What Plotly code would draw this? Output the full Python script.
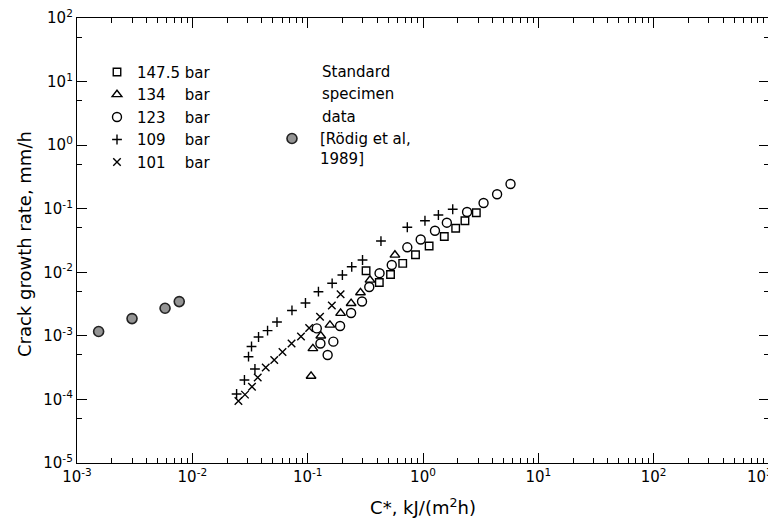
import plotly.graph_objects as go

# ---------------- data ----------------
# 147.5 bar
c_1475 = [0.321, 0.418, 0.523, 0.667, 0.861, 1.13, 1.53, 1.92, 2.31, 2.90]
r_1475 = [0.01055, 0.0069, 0.00923, 0.0138, 0.0189, 0.0259, 0.0366, 0.0492, 0.0647, 0.0863]
# 134 bar
c_134 = [0.107, 0.111, 0.130, 0.156, 0.193, 0.238, 0.287, 0.347, 0.571]
r_134 = [2.33e-4, 6.32e-4, 1.0e-3, 1.48e-3, 2.27e-3, 3.25e-3, 4.78e-3, 7.57e-3, 0.0187]
# 123 bar
c_123 = [0.120, 0.129, 0.149, 0.167, 0.191, 0.238, 0.296, 0.342, 0.420, 0.536,
         0.731, 0.955, 1.27, 1.61, 2.41, 3.35, 4.39, 5.74]
r_123 = [1.31e-3, 7.59e-4, 5.0e-4, 8.1e-4, 1.43e-3, 2.29e-3, 3.47e-3, 5.86e-3, 9.68e-3, 0.0130,
         0.0247, 0.0328, 0.0451, 0.0603, 0.0887, 0.123, 0.169, 0.245]
# 109 bar
c_109 = [0.0242, 0.0283, 0.0349, 0.0307, 0.0326, 0.0375, 0.0449, 0.0542, 0.0731, 0.0957,
         0.124, 0.163, 0.200, 0.241, 0.299, 0.432, 0.731, 1.04, 1.36, 1.81]
r_109 = [1.22e-4, 2.02e-4, 3.01e-4, 4.70e-4, 6.80e-4, 9.6e-4, 1.21e-3, 1.65e-3, 2.51e-3, 3.29e-3,
         4.95e-3, 6.71e-3, 9.06e-3, 0.0122, 0.0156, 0.0310, 0.0511, 0.0647, 0.0796, 0.098]
# 101 bar
c_101 = [0.0251, 0.0286, 0.0329, 0.0369, 0.0433, 0.0513, 0.0605, 0.0725, 0.0875, 0.103,
         0.128, 0.162, 0.193]
r_101 = [9.44e-5, 1.19e-4, 1.58e-4, 2.21e-4, 3.18e-4, 4.17e-4, 5.57e-4, 7.59e-4, 9.78e-4, 1.33e-3,
         2.0e-3, 3.0e-3, 4.52e-3]
# Standard specimen data [Rödig et al, 1989]
c_std = [1.54e-3, 3.0e-3, 5.8e-3, 7.7e-3]
r_std = [1.17e-3, 1.87e-3, 2.72e-3, 3.46e-3]

x_exps = [-3, -2, -1, 0, 1, 2, 3]
y_exps = [-5, -4, -3, -2, -1, 0, 1, 2]
# last x label (10^3) is drawn separately so that it stays inside the page
x_ticktext = ["10<sup>%d</sup>" % e for e in x_exps[:-1]] + [""]
x_last_label = "10<sup>%d</sup>" % x_exps[-1]
y_ticktext = ["10<sup>%d</sup>" % e for e in y_exps]
std_lines = ["Standard", "specimen", "data"]

FONT = "DejaVu Sans"
INK = "black"

fig = go.Figure()

series = [
    ("147.5 bar", c_1475, r_1475, "square-open", 7.5),
    ("134\u2007\u2008 bar", c_134, r_134, "triangle-up-open", 8.5),
    ("123\u2007\u2008 bar", c_123, r_123, "circle-open", 9),
    ("109\u2007\u2008 bar", c_109, r_109, "cross-thin-open", 7),
    ("101\u2007\u2008 bar", c_101, r_101, "x-thin-open", 7.5),
]
for name, xs, ys, sym, sz in series:
    fig.add_trace(go.Scatter(
        x=xs, y=ys, mode="markers", name=name,
        marker=dict(symbol=sym, size=sz, color=INK, line=dict(color=INK, width=1.4)),
        legend="legend",
    ))

fig.add_trace(go.Scatter(
    x=c_std, y=r_std, mode="markers", name="[Rödig et al,<br>1989]",
    marker=dict(symbol="circle", size=10, color="#949494", line=dict(color="#222", width=1.6)),
    legend="legend2",
))

minor_x = [d * 10.0 ** k for k in range(-3, 3) for d in range(2, 10)]
minor_y = [5 * 10.0 ** k for k in range(-5, 2)]

axis_common = dict(
    type="log", showgrid=False, zeroline=False,
    showline=True, linecolor=INK, linewidth=1.3,
    mirror="allticks", ticks="inside", ticklen=10, tickwidth=1.3, tickcolor=INK,
    tickfont=dict(family=FONT, size=15, color=INK),
    ticklabeloverflow="allow",
)

fig.update_xaxes(
    **axis_common, range=[-3, 3],
    tickvals=[10.0 ** e for e in x_exps], ticktext=x_ticktext,
    minor=dict(tickvals=minor_x, ticks="inside", ticklen=5, tickwidth=1.1, tickcolor=INK, showgrid=False),
    title=dict(text="C*, kJ/(m<sup>2</sup>h)", font=dict(family=FONT, size=18, color=INK), standoff=16),
)
fig.update_yaxes(
    **axis_common, range=[-5, 2],
    tickvals=[10.0 ** e for e in y_exps], ticktext=y_ticktext,
    minor=dict(tickvals=minor_y, ticks="inside", ticklen=5, tickwidth=1.1, tickcolor=INK, showgrid=False),
)

fig.add_annotation(
    text=x_last_label, xref="paper", yref="paper",
    x=1, y=0, xanchor="right", yanchor="middle", xshift=6, yshift=-13,
    showarrow=False, font=dict(family=FONT, size=15, color=INK),
)

# y-axis title (placed as a rotated annotation so it can sit closer to the page edge)
fig.add_annotation(
    text="Crack growth rate, mm/h", xref="paper", yref="paper",
    x=0, y=0.492, xshift=-53, xanchor="center", yanchor="middle",
    textangle=-90, showarrow=False,
    font=dict(family=FONT, size=18, color=INK),
)

# "Standard / specimen / data" caption, one line per row (rows match legend spacing)
for i, line in enumerate(std_lines):
    fig.add_annotation(
        text=line, xref="paper", yref="paper",
        x=0.3512, y=0.8787 - i * 0.0506, xanchor="left", yanchor="middle",
        align="left", showarrow=False,
        font=dict(family=FONT, size=15, color=INK),
    )

fig.update_layout(
    width=768, height=513,
    margin=dict(l=69, r=7, t=10, b=58, autoexpand=False),
    paper_bgcolor="white", plot_bgcolor="white",
    showlegend=True,
    legend=dict(x=0.0289, y=0.9152, xanchor="left", yanchor="top",
                bgcolor="rgba(0,0,0,0)", borderwidth=0,
                font=dict(family=FONT, size=15, color=INK), itemwidth=30),
    legend2=dict(x=0.2702, y=0.7657, xanchor="left", yanchor="top",
                 bgcolor="rgba(0,0,0,0)", borderwidth=0, valign="top",
                 font=dict(family=FONT, size=15, color=INK), itemwidth=46),
)

fig.write_html("out.html")
